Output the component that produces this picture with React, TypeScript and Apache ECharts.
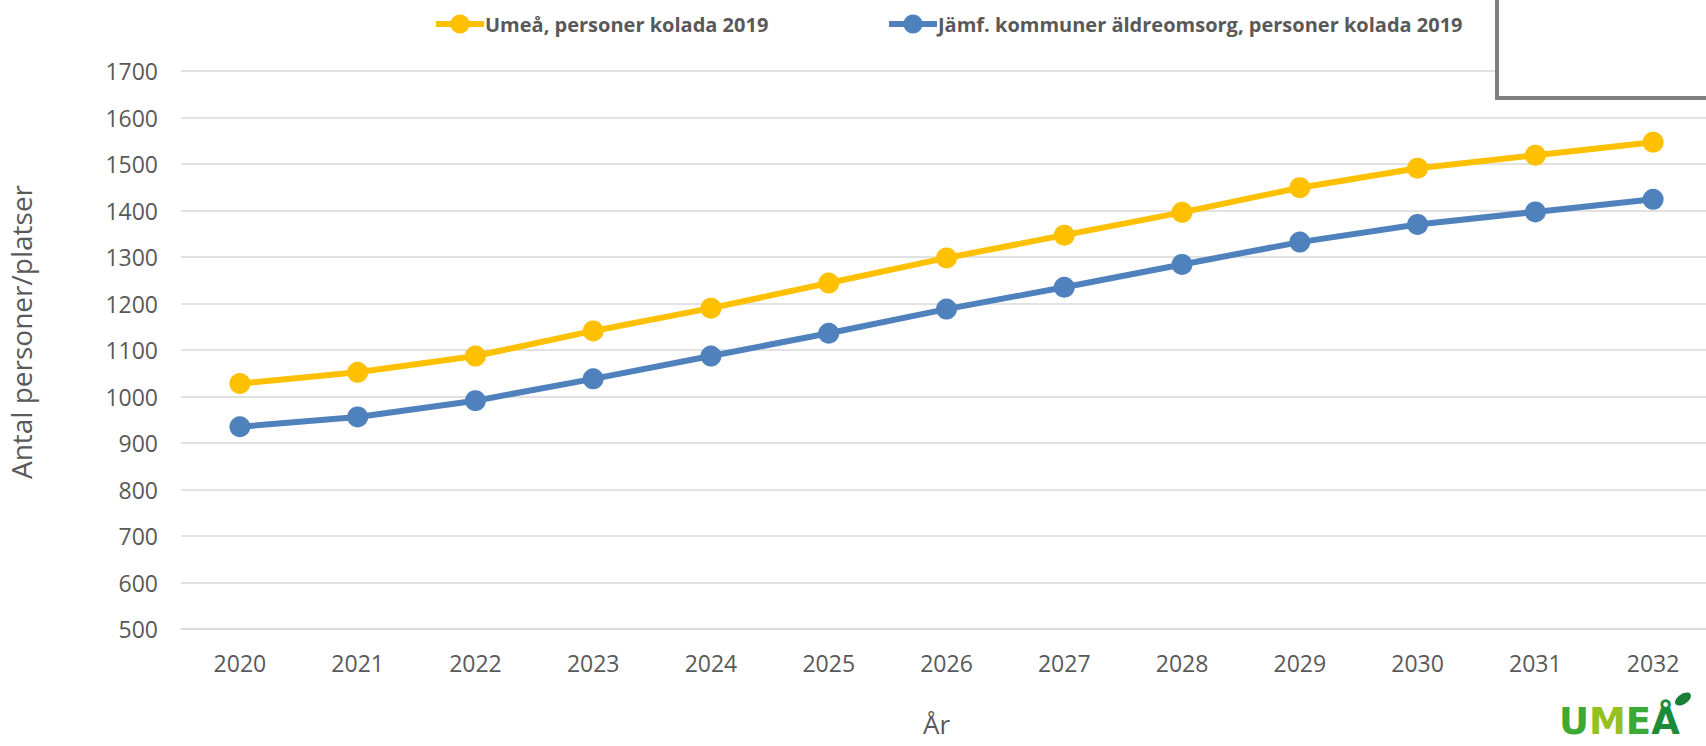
import React, { useEffect, useRef } from "react";
import * as echarts from "echarts";

const years = ["2020", "2021", "2022", "2023", "2024", "2025", "2026", "2027", "2028", "2029", "2030", "2031", "2032"];
const umeaValues = [1028, 1052, 1087, 1141, 1190, 1244, 1298, 1347, 1396, 1449, 1491, 1519, 1547];
const jamfValues = [935, 956, 991, 1038, 1087, 1136, 1188, 1235, 1284, 1332, 1370, 1397, 1424];
const umeaName = "Umeå, personer kolada 2019";
const jamfName = "Jämf. kommuner äldreomsorg, personer kolada 2019";
const yAxisName = "Antal personer/platser";
const xAxisName = "År";

const FONT = "'Open Sans', 'Noto Sans', sans-serif";

export default function App() {
  const ref = useRef<HTMLDivElement>(null);
  useEffect(() => {
    if (!ref.current) return;
    const chart = echarts.init(ref.current, null, { renderer: "svg" });
    const legendCommon = {
      top: 9,
      itemWidth: 48,
      itemHeight: 24,
      itemGap: 0,
      lineStyle: { width: 6 },
      textStyle: { fontFamily: FONT, fontWeight: "bold", fontSize: 20, color: "#595959", padding: [0, 0, 0, -4] },
    };
    chart.setOption({
      animation: false,
      backgroundColor: "#ffffff",
      textStyle: { fontFamily: FONT },
      legend: [
        { ...legendCommon, left: 428, data: [umeaName] },
        { ...legendCommon, left: 881, data: [jamfName] },
      ],
      grid: { left: 181, top: 71, width: 1531, height: 558, containLabel: false, outerBoundsMode: "none" },
      xAxis: {
        type: "category",
        data: years,
        boundaryGap: true,
        axisLine: { show: true, lineStyle: { color: "#d9d9d9", width: 1.5 } },
        axisTick: { show: false },
        axisLabel: { fontFamily: FONT, fontSize: 23, color: "#595959", margin: 22 },
        name: xAxisName,
        nameLocation: "middle",
        nameGap: 82,
        nameTextStyle: { fontFamily: FONT, fontSize: 26, color: "#595959", padding: [0, 20, 0, 0] },
      },
      yAxis: {
        type: "value",
        min: 500,
        max: 1700,
        interval: 100,
        axisLine: { show: false },
        axisTick: { show: false },
        splitLine: { lineStyle: { color: "#d9d9d9", width: 1.5 } },
        axisLabel: {
          fontFamily: FONT,
          fontSize: 23,
          color: "#595959",
          margin: 23,
          formatter: (v: number) => String(v),
        },
        name: yAxisName,
        nameLocation: "middle",
        nameGap: 146,
        nameTextStyle: { fontFamily: FONT, fontSize: 28, color: "#595959", padding: [0, 0, 0, 36] },
      },
      series: [
        {
          name: umeaName,
          type: "line",
          data: umeaValues,
          symbol: "circle",
          symbolSize: 21,
          lineStyle: { color: "#FFC000", width: 6 },
          itemStyle: { color: "#FFC000" },
          z: 3,
        },
        {
          name: jamfName,
          type: "line",
          data: jamfValues,
          symbol: "circle",
          symbolSize: 21,
          lineStyle: { color: "#4F81BD", width: 6 },
          itemStyle: { color: "#4F81BD" },
          z: 3,
        },
      ],
      graphic: [
        {
          type: "rect",
          z: 100,
          shape: { x: 1497, y: -10, width: 240, height: 108 },
          style: { fill: "#ffffff", stroke: "#7f7f7f", lineWidth: 4 },
        },
        {
          type: "text",
          z: 100,
          x: 1559,
          y: 721,
          style: {
            text: "{a|U}{b|M}{a|E}{c|Å}",
            verticalAlign: "middle",
            rich: {
              a: { fontFamily: "'DejaVu Sans', sans-serif", fontWeight: "bold", fontSize: 37, fill: "#3aaa35" },
              b: { fontFamily: "'DejaVu Sans', sans-serif", fontWeight: "bold", fontSize: 37, fill: "#95c11f" },
              c: { fontFamily: "'DejaVu Sans', sans-serif", fontWeight: "bold", fontSize: 37, fill: "#1d8b3a" },
            },
          },
        },
        {
          type: "ellipse",
          z: 101,
          x: 1683,
          y: 699,
          rotation: 0.6,
          shape: { cx: 0, cy: 0, rx: 9, ry: 5 },
          style: { fill: "#1a7f37" },
        },
      ],
    });
    return () => chart.dispose();
  }, []);
  return (
    <div
      ref={ref}
      style={{ position: "fixed", left: 0, top: 0, width: 1706, height: 746, background: "#fff" }}
    />
  );
}
